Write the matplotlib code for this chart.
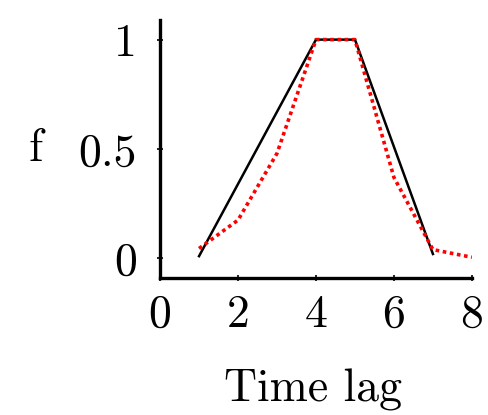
import matplotlib
matplotlib.use("Agg")
import matplotlib.pyplot as plt

lags_black = [1, 2, 3, 4, 5, 6, 7]
f_black = [0.01, 0.34, 0.67, 1.0, 1.0, 0.51, 0.02]
lags_red = [1, 2, 3, 4, 5, 6, 7, 8]
f_red = [0.045, 0.175, 0.48, 1.0, 1.0, 0.37, 0.04, 0.005]
xticks = [0, 2, 4, 6, 8]
yticks = [0, 0.5, 1]
ytick_labels = ["0", "0.5", "1"]

plt.rcParams['font.family'] = ['serif']
plt.rcParams['font.serif'] = ['cmr10', 'DejaVu Serif']
plt.rcParams['axes.formatter.use_mathtext'] = True

fig = plt.figure(figsize=(4.88, 4.15), dpi=100)
ax = fig.add_axes([0.328, 0.330, 0.639, 0.622])

ax.plot(lags_black, f_black, color='black', lw=1.8)
ax.plot(lags_red, f_red, color='red', lw=2.6, ls=(0, (1, 1)))

ax.set_xlim(0, 8)
ax.set_ylim(-0.09, 1.09)
ax.set_xticks(xticks)
ax.set_xticklabels([str(t) for t in xticks])
ax.set_yticks(yticks)
ax.set_yticklabels(ytick_labels)
for s in ['top', 'right']:
    ax.spines[s].set_visible(False)
for s in ['left', 'bottom']:
    ax.spines[s].set_linewidth(2.4)
ax.tick_params(direction='inout', length=5, width=1.2, labelsize=33)
ax.tick_params(axis='y', pad=14)
ax.tick_params(axis='x', pad=9)

ax.set_ylabel('f', rotation=0, fontsize=33, va='center', ha='center')
ax.yaxis.set_label_coords(-0.40, 0.5)
ax.set_xlabel('Time lag', fontsize=33, va='top')
ax.xaxis.set_label_coords(0.49, -0.35)

fig.savefig('out.png', dpi=100)
